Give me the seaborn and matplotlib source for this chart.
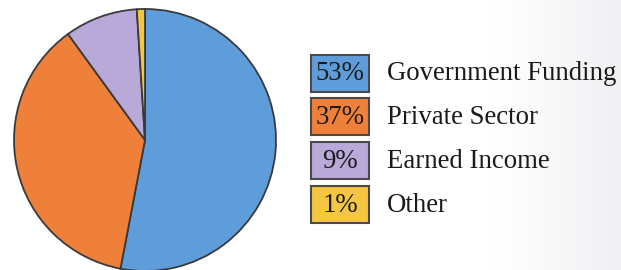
import matplotlib
matplotlib.use("Agg")
import matplotlib.pyplot as plt
import numpy as np
import seaborn as sns
from matplotlib.patches import Rectangle

sns.set_theme(style="white")
plt.rcParams['font.family'] = ['Liberation Serif', 'DejaVu Serif']

categories = ["Government Funding", "Private Sector", "Earned Income", "Other"]
shares = [53, 37, 9, 1]
share_labels = ["53%", "37%", "9%", "1%"]
colors = ["#5e9dd9", "#ef8039", "#b9a9d9", "#f5c643"]

W, H = 621, 270
fig = plt.figure(figsize=(W / 100, H / 100), dpi=100)

# background with subtle gradient
bg = fig.add_axes([0, 0, 1, 1])
grad = np.linspace(0, 1, 256)[None, :] ** 3
bg.imshow(grad, extent=[0, W, H, 0], cmap=matplotlib.colors.LinearSegmentedColormap.from_list(
    "g", ["#ffffff", "#ffffff", "#f0f0f3"]), aspect="auto", zorder=0)
bg.set_xlim(0, W)
bg.set_ylim(H, 0)
bg.axis("off")

# pie
cx, cy, r = 145, 140, 131
axw = 300
ax = fig.add_axes([0, 0, axw / W, 1])
wedges, _ = ax.pie(shares, colors=colors, startangle=90, counterclock=False,
                   wedgeprops=dict(edgecolor="#3a3a3a", linewidth=1.3))
ax.set_xlim(-cx / r, (axw - cx) / r)
ax.set_ylim(-(H - cy) / r, cy / r)
ax.set_aspect("auto")
ax.axis("off")
ax.patch.set_alpha(0)

# legend
lg = fig.add_axes([0, 0, 1, 1])
lg.set_xlim(0, W)
lg.set_ylim(H, 0)
lg.axis("off")
lg.patch.set_alpha(0)
row_y = [73, 116, 160.5, 204.5]
bx, bw, bh = 311, 58, 37
for yc, lab, cat, col in zip(row_y, share_labels, categories, colors):
    lg.add_patch(Rectangle((bx, yc - bh / 2), bw, bh, facecolor=col,
                           edgecolor="#4a4a4a", linewidth=1.5))
    lg.text(bx + bw / 2, yc + 1, lab, ha="center", va="center", fontsize=19.3, color="#1a1a1a")
    lg.text(387, yc + 1, cat, ha="left", va="center", fontsize=19.3, color="#1a1a1a")

fig.savefig("out.png", dpi=100)
